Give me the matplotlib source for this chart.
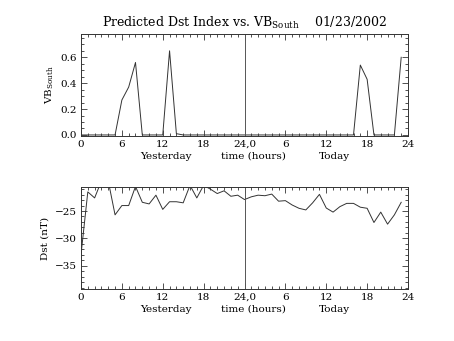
import matplotlib
matplotlib.use("Agg")
import matplotlib.pyplot as plt
from matplotlib.ticker import MultipleLocator, FixedLocator

plt.rcParams['font.family'] = ['DejaVu Serif']
plt.rcParams['mathtext.fontset'] = 'dejavuserif'

hours = list(range(48))
vb_south = [0, 0, 0, 0, 0, 0, 0.27, 0.37, 0.56, 0, 0, 0, 0, 0.65, 0.01, 0,
            0, 0, 0, 0, 0, 0, 0, 0, 0, 0, 0, 0, 0, 0, 0, 0,
            0, 0, 0, 0, 0, 0, 0, 0, 0, 0.54, 0.43, 0, 0, 0, 0, 0.60]
dst = [-33.0, -21.5, -22.6, -19.5, -19.5, -25.7, -24.0, -24.0, -20.5, -23.4,
       -23.7, -22.1, -24.7, -23.3, -23.3, -23.5, -20.3, -22.6, -20.3, -21.0,
       -21.8, -21.3, -22.3, -22.1, -22.9, -22.4, -22.1, -22.2, -21.9, -23.2,
       -23.1, -23.9, -24.5, -24.8, -23.5, -21.95, -24.45, -25.2, -24.2, -23.6,
       -23.6, -24.3, -24.5, -27.1, -25.2, -27.4, -25.7, -23.4]
xtick_pos = [0, 6, 12, 18, 24, 30, 36, 42, 48]
xtick_labels = ['0', '6', '12', '18', '24,0', '6', '12', '18', '24']
day_labels = [(12.4, 'Yesterday'), (25.3, 'time (hours)'), (37.2, 'Today')]

fig = plt.figure(figsize=(4.54, 3.41), dpi=100)
ax1 = fig.add_axes([0.1784, 0.6012, 0.7203, 0.2991])
ax2 = fig.add_axes([0.1784, 0.1525, 0.7203, 0.2982])

lc = '#333333'
fs = 7.5

def style(ax):
    ax.set_xlim(0, 48)
    ax.xaxis.set_major_locator(FixedLocator(xtick_pos))
    ax.set_xticklabels(xtick_labels, fontsize=fs)
    ax.xaxis.set_minor_locator(MultipleLocator(1))
    ax.tick_params(which='both', direction='in', top=True, right=True,
                   color=lc, width=0.6, labelsize=fs, pad=3)
    ax.tick_params(which='major', length=4)
    ax.tick_params(which='minor', length=2)
    for s in ax.spines.values():
        s.set_linewidth(0.7)
        s.set_color(lc)
    ax.axvline(24, color='#555555', lw=0.7)
    for xv, t in day_labels:
        ax.text(xv, -0.2, t, transform=ax.get_xaxis_transform(),
                ha='center', va='center', fontsize=fs)

ax1.plot(hours, vb_south, color=lc, lw=0.7)
style(ax1)
ax1.set_ylim(-0.008, 0.78)
ax1.yaxis.set_minor_locator(MultipleLocator(0.05))
ax1.set_yticks([0.0, 0.2, 0.4, 0.6])
ax1.set_yticklabels(['0.0', '0.2', '0.4', '0.6'])
ax1.set_ylabel(r'VB$_{\rm South}$', fontsize=fs, labelpad=3)
ax1.set_title(r'Predicted Dst Index vs. VB$_{\rm South}$    01/23/2002',
              fontsize=9, pad=5)

ax2.plot(hours, dst, color=lc, lw=0.7)
style(ax2)
ax2.set_ylim(-39.27, -20.66)
ax2.set_yticks([-35, -30, -25])
ax2.set_yticklabels(['\u221235', '\u221230', '\u221225'])
ax2.yaxis.set_minor_locator(MultipleLocator(1))
ax2.set_ylabel('Dst (nT)', fontsize=fs, labelpad=4)

fig.savefig('out.png', dpi=100)
